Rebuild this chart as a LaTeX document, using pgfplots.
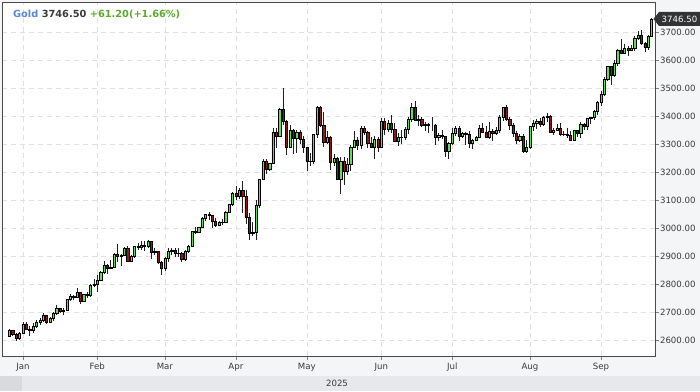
\documentclass[border=0pt]{standalone}
\usepackage{fontspec}
\setmainfont{DejaVu Sans}
\usepackage{pgfplots}
\usepackage{pgfplotstable}
\pgfplotsset{compat=1.18}
\definecolor{bgcol}{HTML}{F4F5F7}
\definecolor{gridcol}{HTML}{E0E0E0}
\definecolor{axiscol}{HTML}{4A4A4A}
\definecolor{labelcol}{HTML}{3A3A3A}
\definecolor{bandcol}{HTML}{E7E8EB}
\definecolor{bandsq}{HTML}{D9DADD}
\definecolor{goldblue}{HTML}{5B86D6}
\definecolor{chgreen}{HTML}{5DA92E}
\definecolor{upcol}{HTML}{66DA62}
\definecolor{dncol}{HTML}{8C1B1B}
\definecolor{wickcol}{HTML}{1E1E1E}
\definecolor{tagcol}{HTML}{333333}

\pgfplotstableread{
o h l c
2615 2638 2614 2634
2634 2636 2614 2621
2621 2624 2597 2606
2606 2630 2600 2624
2624 2664 2622 2658
2658 2666 2635 2640
2640 2649 2614 2636
2636 2660 2626 2649
2649 2670 2643 2662
2662 2678 2655 2670
2670 2697 2664 2689
2689 2690 2656 2662
2662 2683 2660 2677
2677 2700 2668 2696
2696 2724 2691 2714
2714 2716 2697 2702
2702 2713 2690 2708
2708 2746 2703 2744
2744 2763 2741 2755
2755 2759 2742 2754
2754 2786 2751 2770
2770 2772 2730 2740
2740 2766 2737 2763
2763 2770 2750 2760
2760 2799 2753 2794
2794 2817 2791 2798
2798 2831 2772 2815
2815 2845 2809 2842
2842 2882 2834 2866
2866 2870 2834 2856
2856 2886 2853 2861
2861 2911 2860 2908
2908 2942 2880 2898
2898 2907 2864 2904
2904 2932 2899 2928
2928 2934 2877 2882
2882 2905 2880 2898
2898 2937 2894 2935
2935 2947 2920 2933
2933 2955 2922 2939
2939 2954 2919 2936
2936 2956 2930 2951
2951 2952 2889 2915
2915 2927 2904 2916
2916 2918 2871 2876
2876 2882 2833 2857
2857 2898 2845 2893
2893 2928 2880 2917
2917 2929 2905 2920
2920 2930 2895 2911
2911 2930 2897 2910
2910 2914 2880 2889
2889 2921 2881 2917
2917 2940 2910 2935
2935 2990 2932 2988
2988 3004 2978 2984
2984 3003 2982 3001
3001 3038 3000 3035
3035 3050 3025 3048
3048 3057 3028 3044
3044 3047 2999 3023
3023 3034 3003 3011
3011 3025 3006 3020
3020 3033 3011 3019
3019 3060 3017 3057
3057 3087 3054 3085
3085 3128 3077 3124
3124 3149 3100 3113
3113 3142 3105 3134
3134 3167 3055 3114
3114 3136 3015 3037
3037 3055 2957 2982
2982 3023 2970 2986
2986 3099 2957 3082
3082 3176 3072 3175
3175 3245 3170 3237
3237 3245 3193 3210
3210 3232 3203 3230
3230 3357 3228 3343
3343 3358 3284 3326
3326 3430 3326 3424
3424 3500 3367 3381
3381 3386 3260 3288
3288 3367 3287 3349
3349 3352 3266 3319
3319 3351 3268 3343
3343 3350 3300 3317
3317 3328 3268 3288
3288 3290 3202 3239
3239 3269 3223 3240
3240 3336 3228 3334
3334 3437 3323 3431
3431 3434 3360 3366
3366 3414 3290 3306
3306 3346 3300 3324
3324 3330 3208 3236
3236 3265 3220 3249
3249 3252 3170 3175
3175 3252 3121 3240
3240 3252 3154 3202
3202 3250 3190 3229
3229 3296 3205 3290
3290 3345 3285 3315
3315 3325 3278 3295
3295 3365 3283 3357
3357 3365 3332 3342
3342 3348 3285 3301
3301 3325 3285 3288
3288 3330 3246 3317
3317 3325 3270 3289
3289 3392 3289 3381
3381 3392 3333 3353
3353 3385 3344 3373
3373 3403 3339 3353
3353 3375 3306 3310
3310 3339 3293 3325
3325 3349 3300 3323
3323 3360 3313 3354
3354 3398 3336 3387
3387 3446 3380 3433
3433 3452 3383 3385
3385 3404 3366 3388
3388 3397 3362 3368
3368 3380 3346 3369
3369 3375 3340 3368
3368 3397 3348 3368
3368 3370 3295 3323
3323 3340 3311 3332
3332 3350 3318 3328
3328 3330 3255 3274
3274 3308 3247 3303
3303 3358 3296 3338
3338 3365 3328 3357
3357 3366 3311 3326
3326 3343 3322 3337
3337 3342 3296 3335
3335 3345 3287 3302
3302 3317 3283 3313
3313 3330 3310 3324
3324 3369 3321 3355
3355 3375 3341 3343
3343 3366 3320 3324
3324 3377 3319 3347
3347 3352 3310 3339
3339 3361 3333 3350
3350 3402 3340 3397
3397 3433 3383 3431
3431 3439 3381 3387
3387 3396 3351 3368
3368 3374 3325 3337
3337 3345 3301 3314
3314 3334 3308 3326
3326 3334 3268 3275
3275 3315 3268 3290
3290 3363 3282 3363
3363 3385 3346 3373
3373 3390 3355 3380
3380 3392 3359 3369
3369 3400 3366 3396
3396 3410 3378 3398
3398 3404 3340 3341
3341 3358 3331 3348
3348 3370 3345 3356
3356 3375 3330 3335
3335 3346 3330 3336
3336 3358 3323 3332
3332 3345 3312 3315
3315 3350 3311 3348
3348 3351 3325 3339
3339 3379 3321 3371
3371 3376 3351 3365
3365 3394 3351 3393
3393 3398 3370 3397
3397 3423 3386 3416
3416 3454 3402 3448
3448 3490 3436 3476
3476 3540 3470 3533
3533 3580 3526 3578
3578 3579 3511 3545
3545 3600 3540 3587
3587 3640 3578 3636
3636 3674 3620 3625
3625 3658 3620 3641
3641 3650 3613 3634
3634 3655 3632 3643
3643 3685 3632 3679
3679 3703 3670 3690
3690 3707 3655 3660
3660 3663 3628 3644
3644 3688 3634 3685
3685 3749 3684 3746.5
}\gold

\newcommand{\tickfont}{\fontsize{8.6}{10}\selectfont}

\begin{document}
\begin{tikzpicture}[x=1pt,y=1pt]
\fill[bgcol] (0,0) rectangle (700,391);
\useasboundingbox (0,0) rectangle (700,391);
% bottom band
\fill[bandcol] (0,0) rectangle (700,15);
\fill[bandsq] (0,0) rectangle (22,15);
\node[font=\tickfont, text=labelcol] at (337,7.5) {2025};

\begin{axis}[
  at={(2pt,35pt)}, anchor=south west,
  scale only axis, width=653pt, height=354pt,
  xmin=-6.2, xmax=187, ymin=2542.9, ymax=3807.2,
  axis background/.style={fill=white},
  axis line style={draw=axiscol, line width=0.8pt},
  xtick={0,22,42,63,84,106,127,150,171},
  xticklabels={Jan,Feb,Mar,Apr,May,Jun,Jul,Aug,Sep},
  ytick={2600,2700,...,3700},
  xtick pos=bottom, ytick pos=right,
  yticklabel pos=right,
  xmajorgrids, ymajorgrids,
  major grid style={draw=gridcol, dash pattern=on 5pt off 4pt, line width=0.6pt},
  tick align=outside, major tick length=3.5pt,
  tick style={draw=axiscol!70, line width=0.6pt},
  /pgf/number format/assume math mode=true,
  y tick label style={font=\tickfont, text=labelcol, xshift=-2pt,
    /pgf/number format/fixed, /pgf/number format/fixed zerofill,
    /pgf/number format/precision=2, /pgf/number format/1000 sep={}},
  x tick label style={font=\tickfont, text=labelcol, yshift=0pt},
  clip=true,
]
\addplot[draw=none, mark=none, forget plot,
  error bars/.cd, y dir=both, y explicit,
  error mark=none,
  error bar style={draw=wickcol, solid, line width=0.7pt}]
  table[x expr=\coordindex-4,
        y expr={(\thisrow{h}+\thisrow{l})/2},
        y error expr={(\thisrow{h}-\thisrow{l})/2}] {\gold};
\end{axis}

\begin{axis}[
  at={(2pt,35pt)}, anchor=south west,
  scale only axis, width=653pt, height=354pt,
  xmin=-6.2, xmax=187, ymin=2542.9, ymax=3807.2,
  hide axis, clip=true,
  ybar stacked, bar width=2.2pt,
]
\addplot[draw=none, fill=none] table[x expr=\coordindex-4, y expr={min(\thisrow{o},\thisrow{c})}] {\gold};
\addplot[draw=black, fill=upcol, line width=0.5pt] table[x expr=\coordindex-4, y expr={max(\thisrow{c}-\thisrow{o},0)}] {\gold};
\addplot[draw=black, fill=dncol, line width=0.5pt] table[x expr=\coordindex-4, y expr={max(\thisrow{o}-\thisrow{c},0)}] {\gold};
\end{axis}

% legend text
\node[anchor=base west, inner sep=0pt, font=\fontsize{9.8}{11}\selectfont\bfseries] at (13,373)
  {\textcolor{goldblue}{Gold} \textcolor{labelcol}{3746.50} \textcolor{chgreen}{+61.20(+1.66\%)}};
% last price tag
\fill[tagcol] (653.5,372) -- (659,379) -- (700,379) -- (700,365) -- (659,365) -- cycle;
\node[font=\tickfont, text=white, inner sep=0pt] at (679.5,372) {3746.50};
\end{tikzpicture}
\end{document}
